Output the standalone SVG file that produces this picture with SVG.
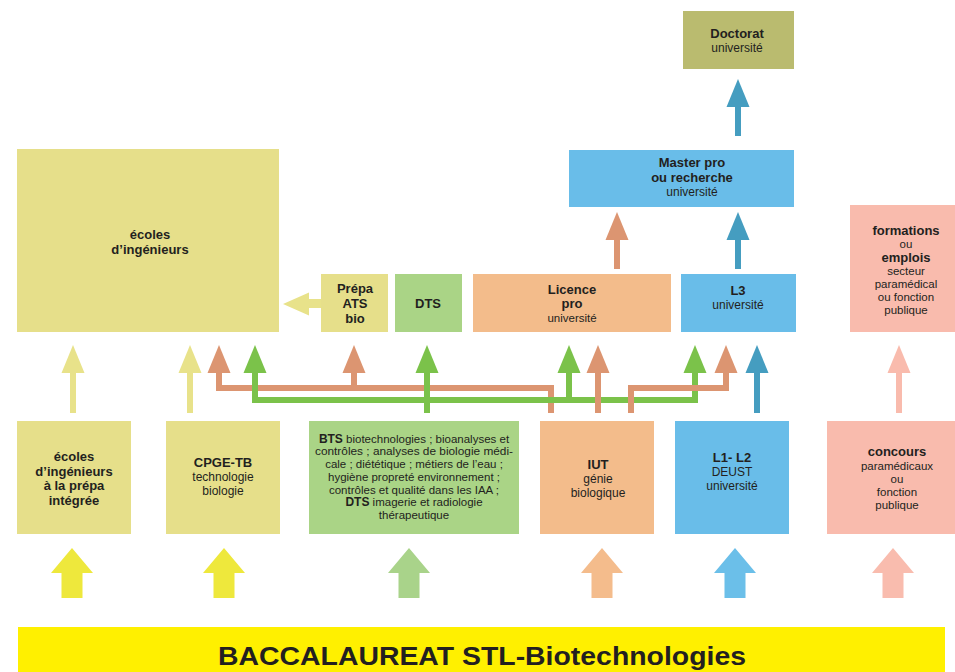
<svg xmlns="http://www.w3.org/2000/svg" xmlns:xlink="http://www.w3.org/1999/xlink" width="955" height="672" viewBox="0 0 955 672">
<style>
text{font-family:"Liberation Sans",Arial,sans-serif;fill:#231F20;text-anchor:middle;font-size:12px}
.r{font-size:11.5px}
.b{font-weight:bold;font-size:13px}
.bs{font-weight:bold;font-size:12px}
.khaki{fill:#E6DF8A}
.green{fill:#AAD486}
.orange{fill:#F3BC8B}
.blue{fill:#69BDE9}
.pink{fill:#F9BBAD}
.olive{fill:#BABB6F}
.ban{fill:#FFF000}
.sy{stroke:#E8E28A;fill:none;stroke-width:6}
.so{stroke:#DC9571;fill:none;stroke-width:6}
.sg{stroke:#7BC24A;fill:none;stroke-width:6}
.sb{stroke:#459DC0;fill:none;stroke-width:6}
.sp{stroke:#F9BBAD;fill:none;stroke-width:6}
.hy{fill:#E8E28A}.ho{fill:#DC9571}.hg{fill:#7BC24A}.hb{fill:#459DC0}.hp{fill:#F9BBAD}
.ay{fill:#EEE83C}.ag{fill:#A9D38A}.ao{fill:#F4BC8C}.ab{fill:#6BBFE9}.ap{fill:#F9BCAE}
</style>
<defs>
<path id="head" d="M0,0 L11.5,28 L-11.5,28 Z"/>
<path id="block" d="M0,0 L21,25 L10.5,25 L10.5,50 L-10.5,50 L-10.5,25 L-21,25 Z"/>
</defs>

<g id="connectors">
<path class="sy" d="M73,413 V372"/><use xlink:href="#head" x="73" y="345" class="hy"/>
<path class="sy" d="M190,413 V372"/><use xlink:href="#head" x="190" y="345" class="hy"/>
<path class="so" d="M551,413 V388 H219 V372"/><use xlink:href="#head" x="219" y="345" class="ho"/>
<path class="so" d="M354,388 V372"/><use xlink:href="#head" x="354" y="345" class="ho"/>
<path class="sg" d="M255,372 V400 H695 V372"/><use xlink:href="#head" x="255" y="345" class="hg"/>
<use xlink:href="#head" x="695" y="345" class="hg"/>
<path class="sg" d="M569,400 V372"/><use xlink:href="#head" x="569" y="345" class="hg"/>
<path class="sg" d="M427,413 V372"/><use xlink:href="#head" x="427" y="345" class="hg"/>
<path class="so" d="M598,413 V372"/><use xlink:href="#head" x="598" y="345" class="ho"/>
<path class="so" d="M631,413 V388 H726 V372"/><use xlink:href="#head" x="726" y="345" class="ho"/>
<path class="sb" d="M757,413 V372"/><use xlink:href="#head" x="757" y="345" class="hb"/>
<path class="sp" d="M899,413 V372"/><use xlink:href="#head" x="899" y="345" class="hp"/>
<path class="so" d="M617,269 V239"/><use xlink:href="#head" x="617" y="212" class="ho"/>
<path class="sb" d="M738,269 V239"/><use xlink:href="#head" x="738" y="212" class="hb"/>
<path class="sb" d="M738,136 V106"/><use xlink:href="#head" x="738" y="79" class="hb"/>
<path class="hy" d="M321,299 H309 V292.5 L283,304 L309,315.5 V308 H321 Z"/>
<use xlink:href="#block" x="72" y="548" class="ay"/>
<use xlink:href="#block" x="224" y="548" class="ay"/>
<use xlink:href="#block" x="409" y="548" class="ag"/>
<use xlink:href="#block" x="602" y="548" class="ao"/>
<use xlink:href="#block" x="735" y="548" class="ab"/>
<use xlink:href="#block" x="893" y="548" class="ap"/>
</g>

<g id="ecoles-ingenieurs">
<rect class="khaki" x="17" y="149" width="262" height="183"/>
<text class="b" x="150" y="239">écoles</text>
<text class="b" x="150" y="254">d’ingénieurs</text>
</g>

<g id="doctorat">
<rect class="olive" x="683" y="11" width="111" height="58"/>
<text class="b" x="737" y="38">Doctorat</text>
<text x="737" y="52">université</text>
</g>

<g id="master">
<rect class="blue" x="569" y="150" width="225" height="57"/>
<text class="b" x="692" y="167">Master pro</text>
<text class="b" x="692" y="182">ou recherche</text>
<text x="692" y="196">université</text>
</g>

<g id="prepa-ats">
<rect class="khaki" x="321" y="274" width="67" height="58"/>
<text class="b" x="355" y="293">Prépa</text>
<text class="b" x="355" y="308">ATS</text>
<text class="b" x="355" y="323">bio</text>
</g>

<g id="dts">
<rect class="green" x="395" y="274" width="67" height="58"/>
<text class="b" x="428" y="308">DTS</text>
</g>

<g id="licence-pro">
<rect class="orange" x="473" y="274" width="198" height="58"/>
<text class="b" x="572" y="294">Licence</text>
<text class="b" x="572" y="308">pro</text>
<text class="r" x="572" y="322">université</text>
</g>

<g id="l3">
<rect class="blue" x="681" y="274" width="115" height="58"/>
<text class="b" x="738" y="295">L3</text>
<text x="738" y="309">université</text>
</g>

<g id="formations">
<rect class="pink" x="850" y="205" width="105" height="127"/>
<text class="b" x="906" y="235">formations</text>
<text class="r" x="906" y="248">ou</text>
<text class="b" x="906" y="262">emplois</text>
<text class="r" x="906" y="275">secteur</text>
<text class="r" x="906" y="288">paramédical</text>
<text class="r" x="906" y="301">ou fonction</text>
<text class="r" x="906" y="314">publique</text>
</g>

<g id="ecoles-prepa-integree">
<rect class="khaki" x="17" y="421" width="114" height="113"/>
<text class="b" x="74" y="461">écoles</text>
<text class="b" x="74" y="475.5">d’ingénieurs</text>
<text class="b" x="74" y="490">à la prépa</text>
<text class="b" x="74" y="504.5">intégrée</text>
</g>

<g id="cpge-tb">
<rect class="khaki" x="166" y="421" width="114" height="113"/>
<text class="b" x="223" y="467">CPGE-TB</text>
<text x="223" y="481">technologie</text>
<text x="223" y="494.5">biologie</text>
</g>

<g id="bts">
<rect class="green" x="309" y="421" width="210" height="113"/>
<text class="r" x="414" y="442.5"><tspan class="bs">BTS</tspan> biotechnologies ; bioanalyses et</text>
<text class="r" x="414" y="455.3" textLength="198" lengthAdjust="spacingAndGlyphs">contrôles ; analyses de biologie médi-</text>
<text class="r" x="414" y="468">cale ; diététique ; métiers de l’eau ;</text>
<text class="r" x="414" y="480.8">hygiène propreté environnement ;</text>
<text class="r" x="414" y="493.5">contrôles et qualité dans les IAA ;</text>
<text class="r" x="414" y="506.3"><tspan class="bs">DTS</tspan> imagerie et radiologie</text>
<text class="r" x="414" y="519">thérapeutique</text>
</g>

<g id="iut">
<rect class="orange" x="540" y="421" width="114" height="113"/>
<text class="b" x="598" y="469">IUT</text>
<text x="598" y="483">génie</text>
<text x="598" y="496.5">biologique</text>
</g>

<g id="l1-l2">
<rect class="blue" x="675" y="421" width="114" height="113"/>
<text class="b" x="732" y="462">L1- L2</text>
<text x="732" y="476">DEUST</text>
<text x="732" y="489.5">université</text>
</g>

<g id="concours">
<rect class="pink" x="827" y="421" width="128" height="113"/>
<text class="b" x="897" y="456">concours</text>
<text class="r" x="897" y="469.5">paramédicaux</text>
<text class="r" x="897" y="482.5">ou</text>
<text class="r" x="897" y="495.5">fonction</text>
<text class="r" x="897" y="508.5">publique</text>
</g>

<g id="baccalaureat">
<rect class="ban" x="18" y="627" width="927" height="45"/>
<text x="482" y="665" style="font-weight:bold;font-size:26px" textLength="528" lengthAdjust="spacingAndGlyphs">BACCALAUREAT STL-Biotechnologies</text>
</g>
</svg>
